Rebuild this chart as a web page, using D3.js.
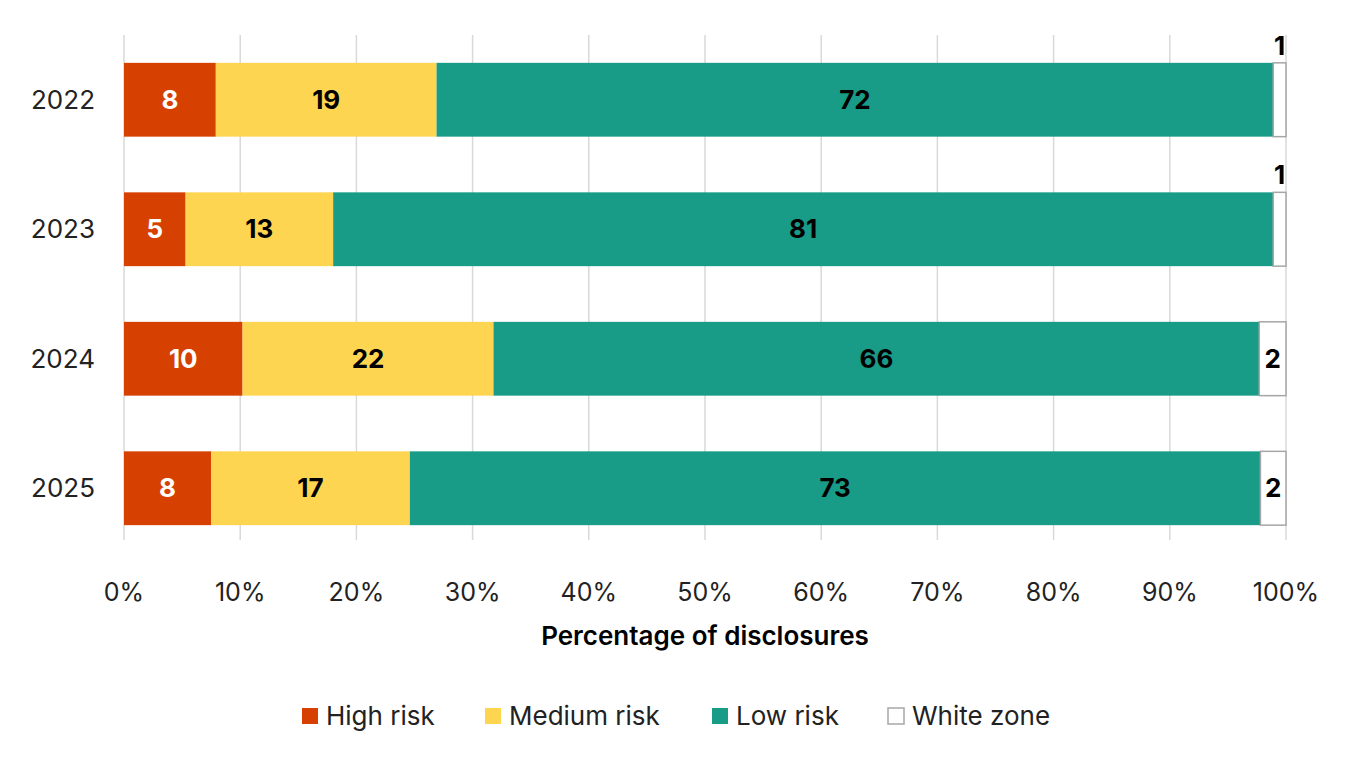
<!DOCTYPE html>
<html><head><meta charset="utf-8">
<script src="https://cdn.jsdelivr.net/npm/d3@7"></script>
<style>body{margin:0;background:#fff}svg{font-family:Inter,"Noto Sans",sans-serif}</style>
</head><body><svg id="c" width="1360" height="766"></svg>
<script>
const years = ["2022","2023","2024","2025"];
const series = ["High risk","Medium risk","Low risk","White zone"];
const highRisk = [7.9, 5.3, 10.2, 7.5];
const mediumRisk = [19.0, 12.7, 21.6, 17.1];
const lowRisk = [72.0, 80.9, 65.9, 73.2];
const whiteZone = [1.1, 1.1, 2.3, 2.2];
const labels = [[8,19,72,1],[5,13,81,1],[10,22,66,2],[8,17,73,2]];
const ticks = [0,10,20,30,40,50,60,70,80,90,100];
const colors = ["#d64000","#fed551","#189b87","#ffffff"];
const textCol = ["#fff","#000","#000","#000"];

const svg = d3.select("#c");
const x = d3.scaleLinear().domain([0,100]).range([124,1286]);
const y = d3.scaleBand().domain(years).range([35,553]).paddingInner(0.43).paddingOuter(0.215);
const vals = [highRisk, mediumRisk, lowRisk, whiteZone];

svg.append("g").selectAll("line").data(ticks).join("line")
  .attr("x1",d=>x(d)).attr("x2",d=>x(d)).attr("y1",35).attr("y2",540)
  .attr("stroke","#d9d9d9").attr("stroke-width",1.5);

years.forEach((yr,i)=>{
  let acc=0;
  vals.forEach((s,j)=>{
    const v=s[i], x0=x(acc), x1=x(acc+v);
    svg.append("rect").attr("x",x0).attr("y",y(yr)).attr("width",x1-x0).attr("height",y.bandwidth())
      .attr("fill",colors[j]).attr("stroke",j===3?"#a6a6a6":"none").attr("stroke-width",1.5);
    const lbl = labels[i][j];
    const cx=(x0+x1)/2;
    const outside = j===3 && lbl<2;
    svg.append("text").attr("x",cx).attr("y",outside? y(yr)-8 : y(yr)+y.bandwidth()/2)
      .attr("dy",outside?0:"0.35em").attr("text-anchor","middle")
      .attr("font-size",26).attr("font-weight",700).attr("fill",textCol[j]).text(lbl);
    acc+=v;
  });
});

svg.append("g").selectAll("text").data(years).join("text")
  .attr("x",95).attr("y",d=>y(d)+y.bandwidth()/2).attr("dy","0.35em").attr("text-anchor","end")
  .attr("font-size",26).attr("fill","#222").text(d=>d);

svg.append("g").selectAll("text").data(ticks).join("text")
  .attr("x",d=>x(d)).attr("y",601).attr("text-anchor","middle")
  .attr("font-size",25).attr("fill","#222").text(d=>d+"%");

svg.append("text").attr("x",705).attr("y",645).attr("text-anchor","middle")
  .attr("font-size",26).attr("font-weight",600).attr("fill","#000").text("Percentage of disclosures");

const legX=[302,485,712,888];
series.forEach((s,j)=>{
  svg.append("rect").attr("x",legX[j]).attr("y",708).attr("width",16).attr("height",16)
    .attr("fill",colors[j]).attr("stroke",j===3?"#a6a6a6":"none").attr("stroke-width",1.5);
  svg.append("text").attr("x",legX[j]+24).attr("y",716).attr("dy","0.35em")
    .attr("font-size",26).attr("fill","#222").text(s);
});
</script></body></html>
